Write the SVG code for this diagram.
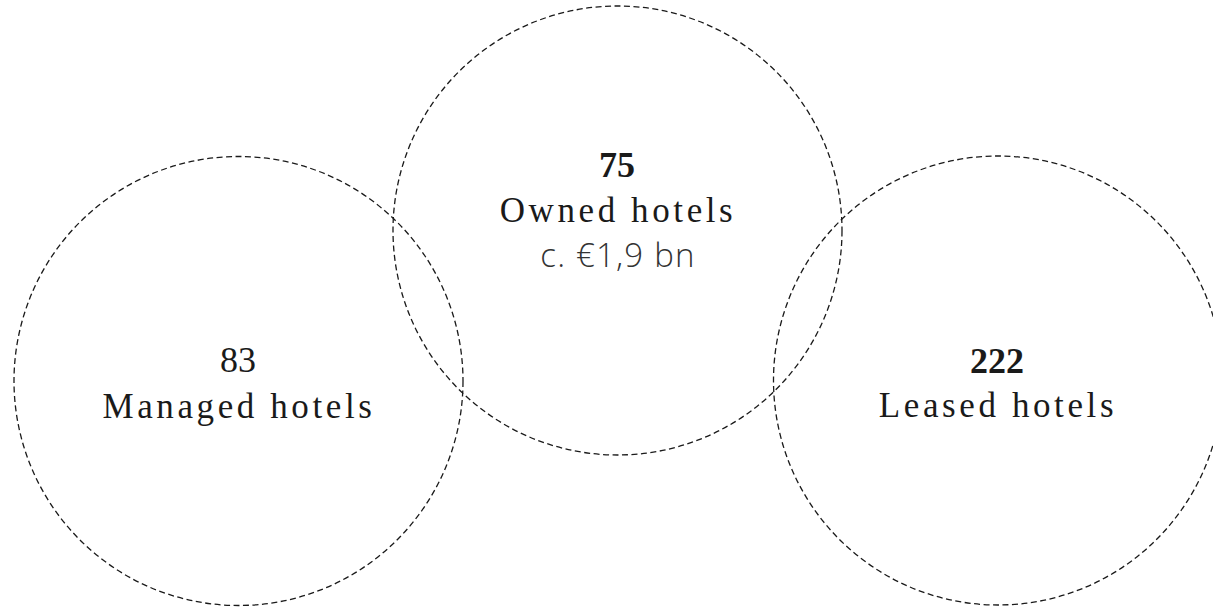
<svg xmlns="http://www.w3.org/2000/svg" width="1213" height="609" viewBox="0 0 1213 609">
<style>
.c{fill:none;stroke:#1a1a1a;stroke-width:1.3;stroke-dasharray:6 3.5}
.n{font-family:"Liberation Serif","Times New Roman",serif;font-size:36px;fill:#1a1a1a;text-anchor:middle}
.b{font-weight:bold}
.l{font-family:"Liberation Serif","Times New Roman",serif;font-size:35px;fill:#1a1a1a;text-anchor:middle;letter-spacing:3.6px}
.v{font-family:"Open Sans","Lato","Liberation Sans",sans-serif;font-weight:300;font-size:33px;fill:#333;text-anchor:middle;letter-spacing:1.2px}
</style>
<rect width="1213" height="609" fill="#fff"/>
<g id="connectors"></g>
<g id="managed">
<circle class="c" cx="238.5" cy="381" r="224.5"/>
<text class="n" x="238" y="372">83</text>
<text class="l" x="239" y="418">Managed hotels</text>
</g>
<g id="owned">
<circle class="c" cx="617.5" cy="230.5" r="224.5"/>
<text class="n b" x="617" y="177">75</text>
<text class="l" x="618" y="222">Owned hotels</text>
<text class="v" x="618" y="267">c. €1,9 bn</text>
</g>
<g id="leased">
<circle class="c" cx="998" cy="380.5" r="224.5"/>
<text class="n b" x="997" y="373">222</text>
<text class="l" x="998" y="417">Leased hotels</text>
</g>
</svg>
